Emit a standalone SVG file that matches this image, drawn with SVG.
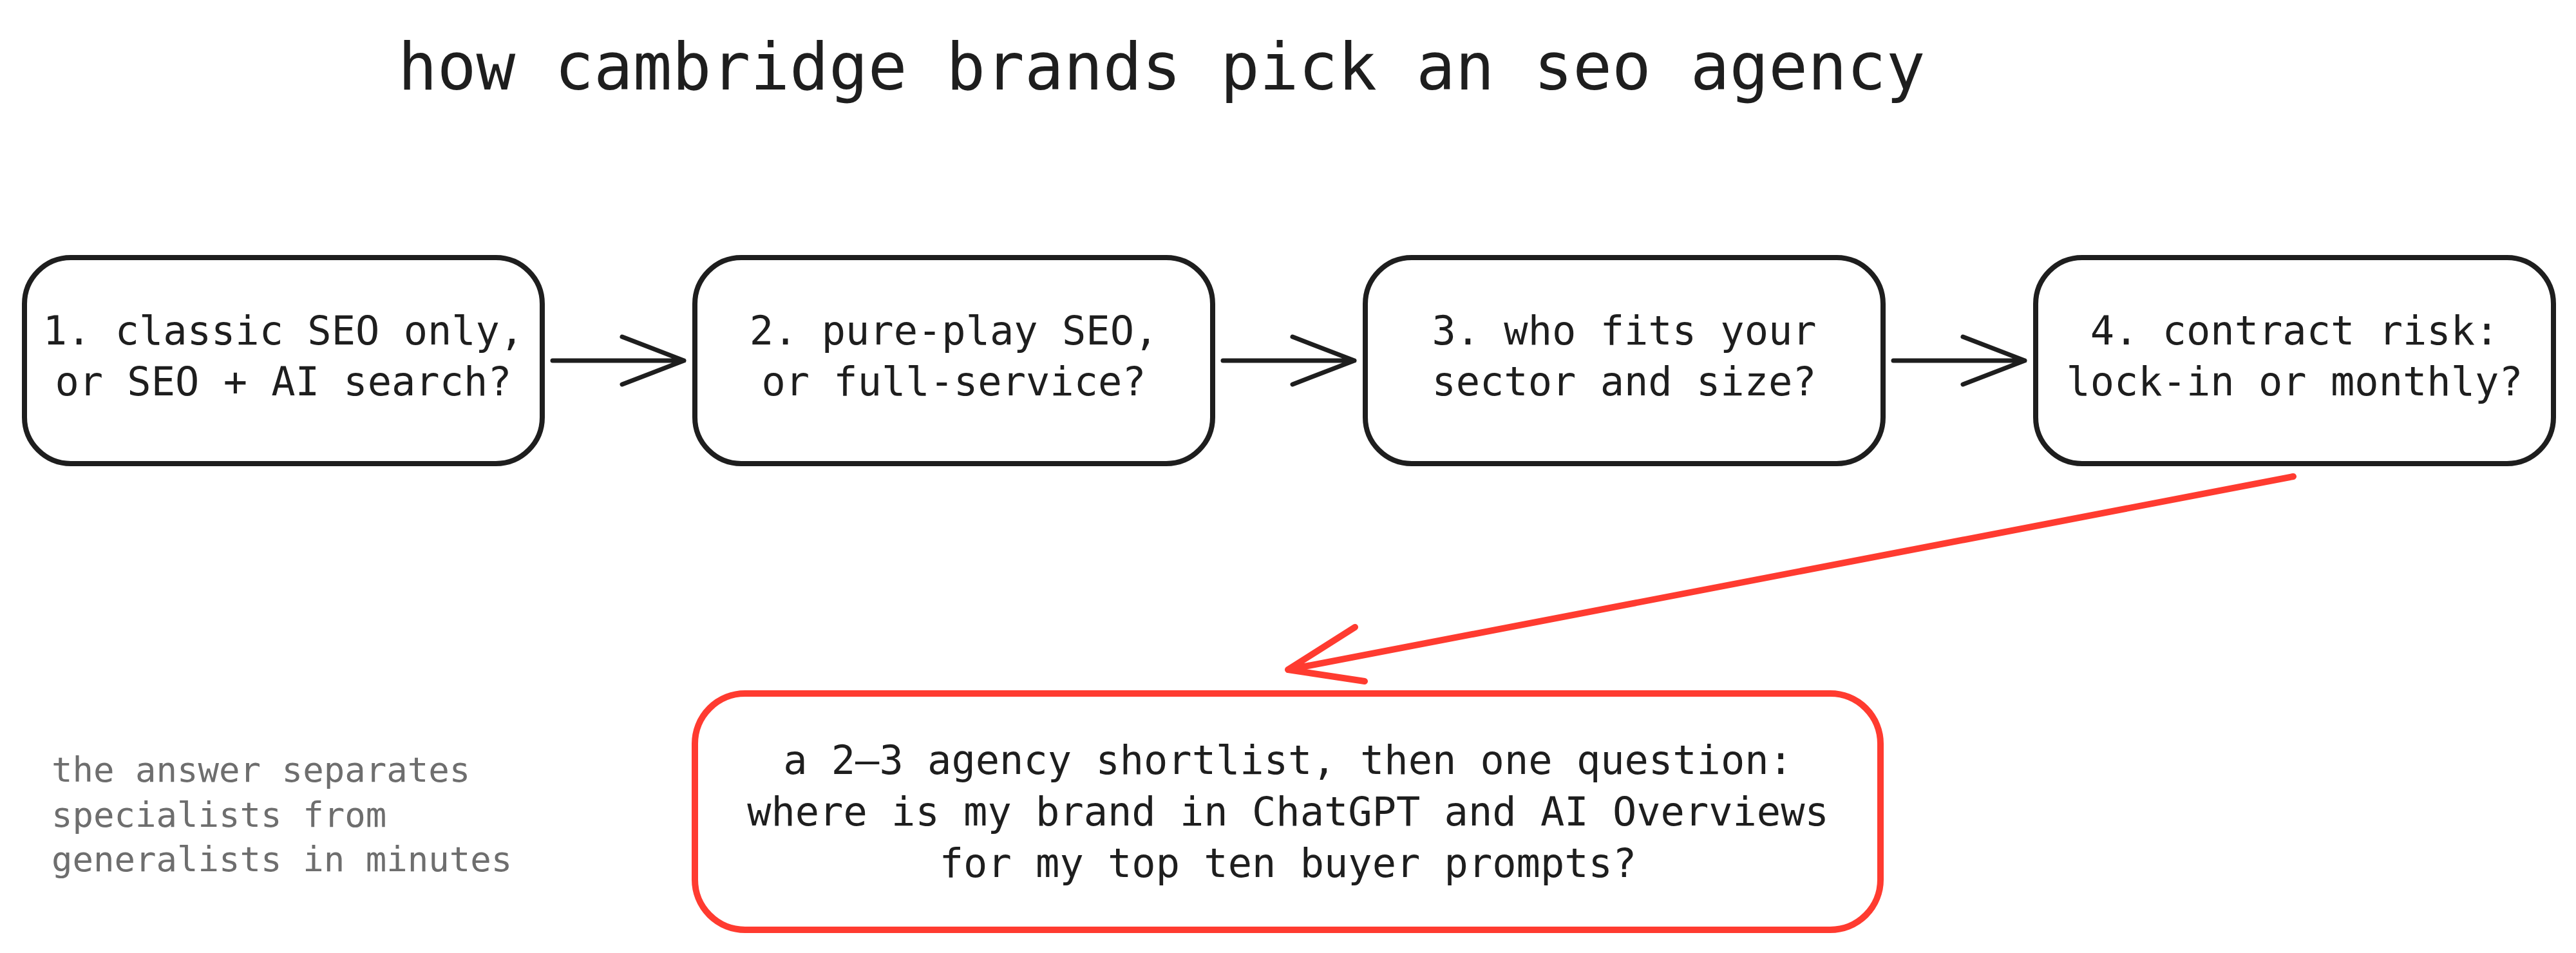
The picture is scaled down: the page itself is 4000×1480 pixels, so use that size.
<svg xmlns="http://www.w3.org/2000/svg" width="4000" height="1480" viewBox="0 0 4000 1480">
  <style>
    .box { fill: #ffffff; stroke: #1e1e1e; stroke-width: 8; }
    .redbox { fill: #ffffff; stroke: #ff3b30; stroke-width: 10; }
    .lbl { font-family: "DejaVu Sans Mono", "Liberation Mono", monospace; font-size: 62px; fill: #1e1e1e; text-anchor: middle; }
    .title { font-family: "DejaVu Sans Mono", "Liberation Mono", monospace; font-size: 101px; fill: #1e1e1e; }
    .note { font-family: "DejaVu Sans Mono", "Liberation Mono", monospace; font-size: 54px; fill: #6e6e6e; }
    .conn { fill: none; stroke: #1e1e1e; stroke-width: 7; stroke-linecap: round; stroke-linejoin: round; }
    .conn-red { fill: none; stroke: #ff3b30; stroke-width: 10; stroke-linecap: round; stroke-linejoin: round; }
  </style>
  <rect width="4000" height="1480" fill="#ffffff"/>

  <g id="title">
    <text class="title" x="618" y="139">how cambridge brands pick an seo agency</text>
  </g>

  <g id="node1">
    <rect class="box" x="38" y="400" width="804" height="320" rx="72"/>
    <text class="lbl" x="440" y="535">1. classic SEO only,</text>
    <text class="lbl" x="440" y="614">or SEO + AI search?</text>
  </g>
  <g id="node2">
    <rect class="box" x="1079" y="400" width="804" height="320" rx="72"/>
    <text class="lbl" x="1481" y="535">2. pure-play SEO,</text>
    <text class="lbl" x="1481" y="614">or full-service?</text>
  </g>
  <g id="node3">
    <rect class="box" x="2120" y="400" width="804" height="320" rx="72"/>
    <text class="lbl" x="2522" y="535">3. who fits your</text>
    <text class="lbl" x="2522" y="614">sector and size?</text>
  </g>
  <g id="node4">
    <rect class="box" x="3161" y="400" width="804" height="320" rx="72"/>
    <text class="lbl" x="3563" y="535">4. contract risk:</text>
    <text class="lbl" x="3563" y="614">lock-in or monthly?</text>
  </g>

  <g id="result">
    <rect class="redbox" x="1079" y="1077" width="1841" height="367" rx="78"/>
    <text class="lbl" x="2000" y="1202">a 2–3 agency shortlist, then one question:</text>
    <text class="lbl" x="2000" y="1282">where is my brand in ChatGPT and AI Overviews</text>
    <text class="lbl" x="2000" y="1362">for my top ten buyer prompts?</text>
  </g>

  <g id="note">
    <text class="note" x="80" y="1214">the answer separates</text>
    <text class="note" x="80" y="1284">specialists from</text>
    <text class="note" x="80" y="1353">generalists in minutes</text>
  </g>

  <g id="connectors">
    <path class="conn" d="M858 560 L1062 560 M966 523 L1062 560 L966 597"/>
    <path class="conn" d="M1899 560 L2103 560 M2007 523 L2103 560 L2007 597"/>
    <path class="conn" d="M2940 560 L3144 560 M3048 523 L3144 560 L3048 597"/>
    <path class="conn-red" d="M3561 740 L2000 1040 M2104 974 L2000 1040 L2119 1058"/>
  </g>
</svg>
